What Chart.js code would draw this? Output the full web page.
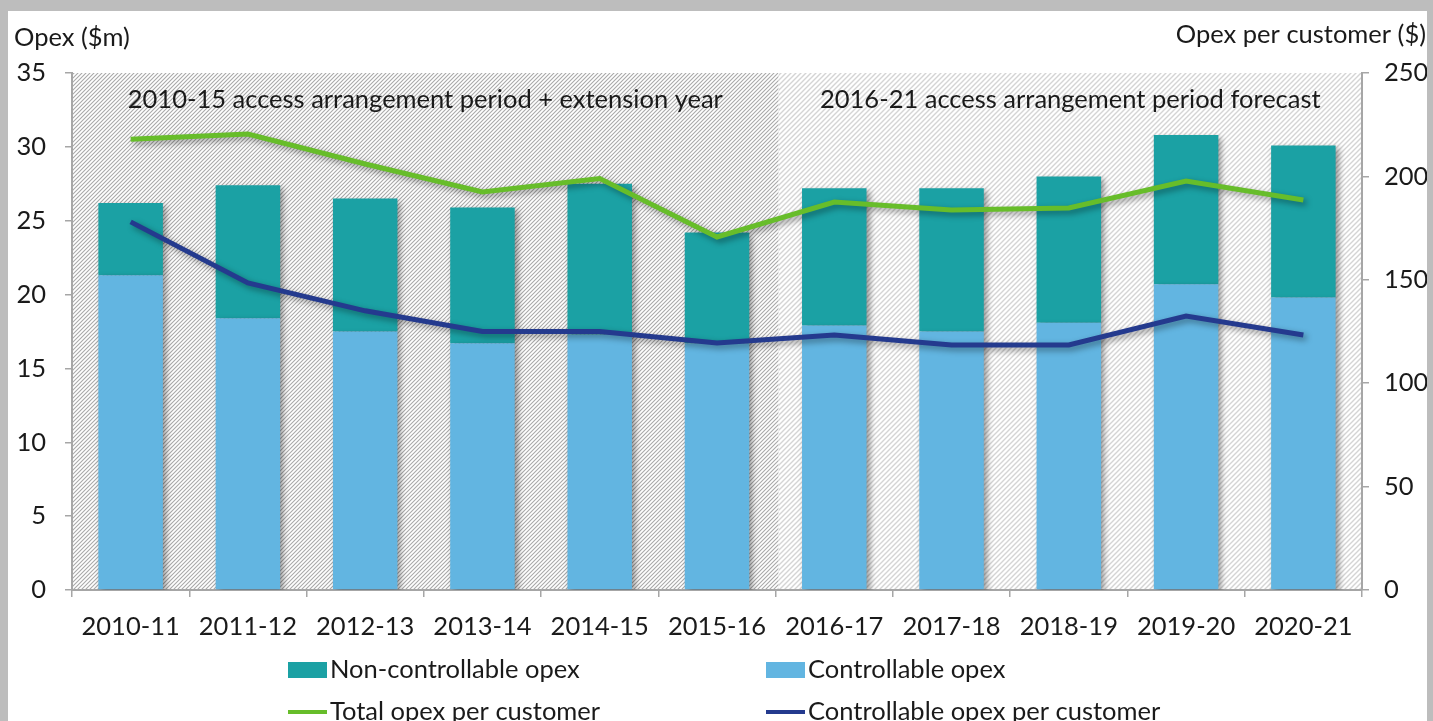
<!DOCTYPE html>
<html>
<head>
<meta charset="utf-8">
<script src="https://cdn.jsdelivr.net/npm/chart.js"></script>
<style>
  html, body { margin: 0; padding: 0; background: #bdbdbd; overflow: hidden; }
  #panel { position: absolute; left: 8px; top: 11px; width: 1419px; height: 710px; background: #fff; }
</style>
</head>
<body>
<div id="panel"><canvas id="chart" width="1419" height="710"></canvas></div>
<script>
var years = ['2010-11', '2011-12', '2012-13', '2013-14', '2014-15', '2015-16', '2016-17', '2017-18', '2018-19', '2019-20', '2020-21'];
var controllable = [21.3, 18.4, 17.5, 16.7, 17.3, 16.7, 17.9, 17.5, 18.1, 20.7, 19.8];
var nonControllable = [4.9, 9.0, 9.0, 9.2, 10.2, 7.5, 9.3, 9.7, 9.9, 10.1, 10.3];
var totalPerCustomer = [218, 220.5, 206, 192.5, 199, 170.7, 187.6, 183.7, 184.7, 197.8, 188.6];
var controllablePerCustomer = [178, 148.5, 135, 125, 125, 119.4, 123.3, 118.5, 118.5, 132.5, 123.3];
var opexTicks = [0, 5, 10, 15, 20, 25, 30, 35];
var perCustomerTicks = [0, 50, 100, 150, 200, 250];
var periodLabels = ['2010-15 access arrangement period + extension year', '2016-21 access arrangement period forecast'];
var forecastStart = 6; // index of first forecast year

var FONT = 'Lato, "Open Sans", sans-serif';
var FSIZE = 25.5;
var TEXT = '#1a1a1a';
var AXIS = '#a6a6a6';

Chart.defaults.font.family = FONT;
Chart.defaults.font.size = FSIZE;
Chart.defaults.color = TEXT;

function hatch(lineColor, s, w) {
  var c = document.createElement('canvas');
  c.width = s; c.height = s;
  var g = c.getContext('2d');
  g.fillStyle = '#fff';
  g.fillRect(0, 0, s, s);
  g.strokeStyle = lineColor;
  g.lineWidth = w;
  g.beginPath();
  g.moveTo(0, s); g.lineTo(s, 0);
  g.moveTo(-1, 1); g.lineTo(1, -1);
  g.moveTo(s - 1, s + 1); g.lineTo(s + 1, s - 1);
  g.stroke();
  return g.createPattern(c, 'repeat');
}

function splitX(chart) {
  var x = chart.scales.x;
  return (x.getPixelForValue(forecastStart - 1) + x.getPixelForValue(forecastStart)) / 2 + 3;
}

var backgroundPlugin = {
  id: 'periods',
  beforeDraw: function (chart) {
    var ctx = chart.ctx, a = chart.chartArea, split = splitX(chart);
    ctx.save();
    ctx.fillStyle = hatch('#a9a9a9', 4, 1.1);
    ctx.fillRect(a.left, a.top, split - a.left, a.bottom - a.top);
    ctx.fillStyle = hatch('#d4d4d4', 5, 1.4);
    ctx.fillRect(split, a.top, a.right - split, a.bottom - a.top);
    ctx.restore();
  },
  afterDraw: function (chart) {
    var ctx = chart.ctx, a = chart.chartArea, split = splitX(chart);
    ctx.save();
    ctx.fillStyle = TEXT;
    ctx.textBaseline = 'middle';
    ctx.textAlign = 'center';
    ctx.font = FSIZE + 'px ' + FONT;
    ctx.fillText(periodLabels[0], (a.left + split) / 2, a.top + 27);
    ctx.fillText(periodLabels[1], (split + a.right) / 2, a.top + 27);
    // axis titles
    ctx.textAlign = 'left';
    ctx.fillText('Opex ($m)', 6, 27);
    ctx.textAlign = 'right';
    ctx.fillText('Opex per customer ($)', chart.width - 1, 24);
    // legend, two columns
    var items = [
      { ds: 1, col: 0, row: 0 },
      { ds: 0, col: 1, row: 0 },
      { ds: 2, col: 0, row: 1 },
      { ds: 3, col: 1, row: 1 }
    ];
    var colX = [280, 758];
    var rowY = [659, 701];
    items.forEach(function (it) {
      var d = chart.data.datasets[it.ds];
      var x0 = colX[it.col], y0 = rowY[it.row];
      if (d.type === 'line') {
        ctx.strokeStyle = d.borderColor;
        ctx.lineWidth = 4;
        ctx.beginPath();
        ctx.moveTo(x0, y0); ctx.lineTo(x0 + 39, y0);
        ctx.stroke();
      } else {
        ctx.fillStyle = d.backgroundColor;
        ctx.fillRect(x0, y0 - 8, 39, 16);
      }
      ctx.fillStyle = TEXT;
      ctx.textAlign = 'left';
      ctx.fillText(d.label, x0 + 42, y0);
    });
    ctx.restore();
  }
};

var shadowPlugin = {
  id: 'shadow',
  beforeDatasetDraw: function (chart) {
    var ctx = chart.ctx;
    ctx.save();
    ctx.shadowColor = 'rgba(0,0,0,0.4)';
    ctx.shadowBlur = 6;
    ctx.shadowOffsetX = 3;
    ctx.shadowOffsetY = 3;
  },
  afterDatasetDraw: function (chart) {
    chart.ctx.restore();
  }
};

new Chart(document.getElementById('chart'), {
  type: 'bar',
  data: {
    labels: years,
    datasets: [
      { label: 'Controllable opex', data: controllable, backgroundColor: '#62b5e1', yAxisID: 'y', stack: 'opex', order: 2, barPercentage: 0.55, categoryPercentage: 1 },
      { label: 'Non-controllable opex', data: nonControllable, backgroundColor: '#1ba1a4', yAxisID: 'y', stack: 'opex', order: 2, barPercentage: 0.55, categoryPercentage: 1 },
      { type: 'line', label: 'Total opex per customer', data: totalPerCustomer, borderColor: '#67bd2a', backgroundColor: '#67bd2a', borderWidth: 5, pointRadius: 0, tension: 0, yAxisID: 'y1', order: 1 },
      { type: 'line', label: 'Controllable opex per customer', data: controllablePerCustomer, borderColor: '#243a8e', backgroundColor: '#243a8e', borderWidth: 5, pointRadius: 0, tension: 0, yAxisID: 'y1', order: 0 }
    ]
  },
  options: {
    responsive: false,
    animation: false,
    layout: { padding: { top: 62, bottom: 71, left: 0, right: 0 } },
    plugins: { legend: { display: false }, tooltip: { enabled: false } },
    scales: {
      x: {
        stacked: true,
        grid: { display: true, drawOnChartArea: false, drawTicks: true, tickLength: 7, color: AXIS, lineWidth: 1.5, offset: true },
        border: { display: true, color: AXIS, width: 2 },
        ticks: { padding: 14, color: TEXT, font: { size: FSIZE }, maxRotation: 0 },
        afterFit: function (s) { s.height = 60; }
      },
      y: {
        stacked: true,
        position: 'left',
        min: 0, max: 35,
        afterBuildTicks: function (s) { s.ticks = opexTicks.map(function (v) { return { value: v }; }); },
        grid: { display: true, drawOnChartArea: false, drawTicks: true, tickLength: 7, color: AXIS, lineWidth: 1.5 },
        border: { display: true, color: AXIS, width: 2 },
        ticks: { padding: 19, color: TEXT, font: { size: FSIZE } },
        afterFit: function (s) { s.width = 64; }
      },
      y1: {
        stacked: false,
        position: 'right',
        min: 0, max: 250,
        afterBuildTicks: function (s) { s.ticks = perCustomerTicks.map(function (v) { return { value: v }; }); },
        grid: { display: true, drawOnChartArea: false, drawTicks: true, tickLength: 7, color: AXIS, lineWidth: 1.5 },
        border: { display: true, color: AXIS, width: 2 },
        ticks: { padding: 15, color: TEXT, font: { size: FSIZE } },
        afterFit: function (s) { s.width = 65; }
      }
    }
  },
  plugins: [backgroundPlugin, shadowPlugin]
});
</script>
</body>
</html>
